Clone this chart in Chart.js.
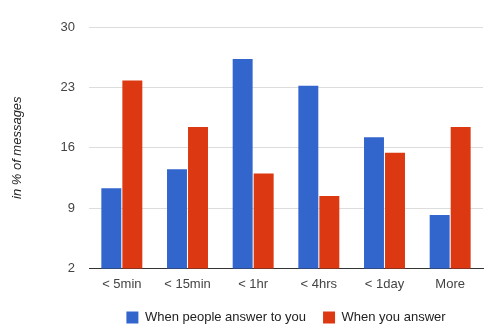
<!DOCTYPE html>
<html>
<head>
<meta charset="utf-8">
<script src="https://cdn.jsdelivr.net/npm/chart.js@4"></script>
<style>
  html, body { margin: 0; padding: 0; background: #fff; }
  #wrap { width: 500px; height: 336px; }
</style>
</head>
<body>
<div id="wrap"><canvas id="chart" width="500" height="336"></canvas></div>
<script>
// data
const categories = ['< 5min', '< 15min', '< 1hr', '< 4hrs', '< 1day', 'More'];
const peopleAnswerYou = [11.3, 13.5, 26.3, 23.2, 17.2, 8.2];
const youAnswer = [23.8, 18.4, 13.0, 10.4, 15.4, 18.4];
const yTicks = [2, 9, 16, 23, 30];

const fontFamily = "'Liberation Sans', Arial, sans-serif";

// legend: a bit less room above it, and centred under the plot area
const legendUnderPlot = {
    id: 'legendUnderPlot',
    beforeLayout: function(chart) {
        const lg = chart.legend;
        if (lg && !lg._patched) {
            const fit = lg.fit.bind(lg);
            lg.fit = function() {
                fit();
                this.height -= 6;
            };
            lg._patched = true;
        }
    },
    afterLayout: function(chart) {
        const lg = chart.legend;
        lg.left = chart.chartArea.left;
        lg.right = chart.chartArea.right;
        lg.width = lg.right - lg.left;
        lg.top -= 6;
        lg.bottom -= 6;
    }
};

const ctx = document.getElementById('chart').getContext('2d');
const chart = new Chart(ctx, {
    type: 'bar',
    data: {
        labels: categories,
        datasets: [{
            label: 'When people answer to you',
            data: peopleAnswerYou,
            backgroundColor: '#3366cc',
            barPercentage: 0.95,
            categoryPercentage: 0.64
        }, {
            label: 'When you answer',
            data: youAnswer,
            backgroundColor: '#dc3912',
            barPercentage: 0.95,
            categoryPercentage: 0.64
        }]
    },
    options: {
        responsive: false,
        animation: false,
        layout: {
            padding: { top: 27, right: 17, bottom: 2, left: 10 }
        },
        scales: {
            x: {
                grid: { display: false, drawTicks: false },
                border: { display: true, color: '#333333', width: 1 },
                ticks: {
                    color: '#444444',
                    font: { family: fontFamily, size: 13 },
                    padding: 8,
                    maxRotation: 0
                }
            },
            y: {
                min: yTicks[0],
                max: yTicks[yTicks.length - 1],
                afterBuildTicks: function(scale) {
                    scale.ticks = yTicks.map(v => ({ value: v }));
                },
                afterFit: function(scale) {
                    scale.width = 79;
                },
                grid: { color: '#dddddd', drawTicks: false },
                border: { display: false },
                ticks: {
                    color: '#444444',
                    font: { family: fontFamily, size: 13 },
                    padding: 14
                },
                title: {
                    display: true,
                    text: 'in % of messages',
                    color: '#222222',
                    font: { family: fontFamily, size: 13, style: 'italic' },
                    padding: 0
                }
            }
        },
        plugins: {
            legend: {
                position: 'bottom',
                labels: {
                    color: '#222222',
                    font: { family: fontFamily, size: 13 },
                    boxWidth: 12,
                    boxHeight: 12,
                    padding: 17
                }
            },
            tooltip: { enabled: false }
        }
    },
    plugins: [legendUnderPlot]
});
</script>
</body>
</html>
